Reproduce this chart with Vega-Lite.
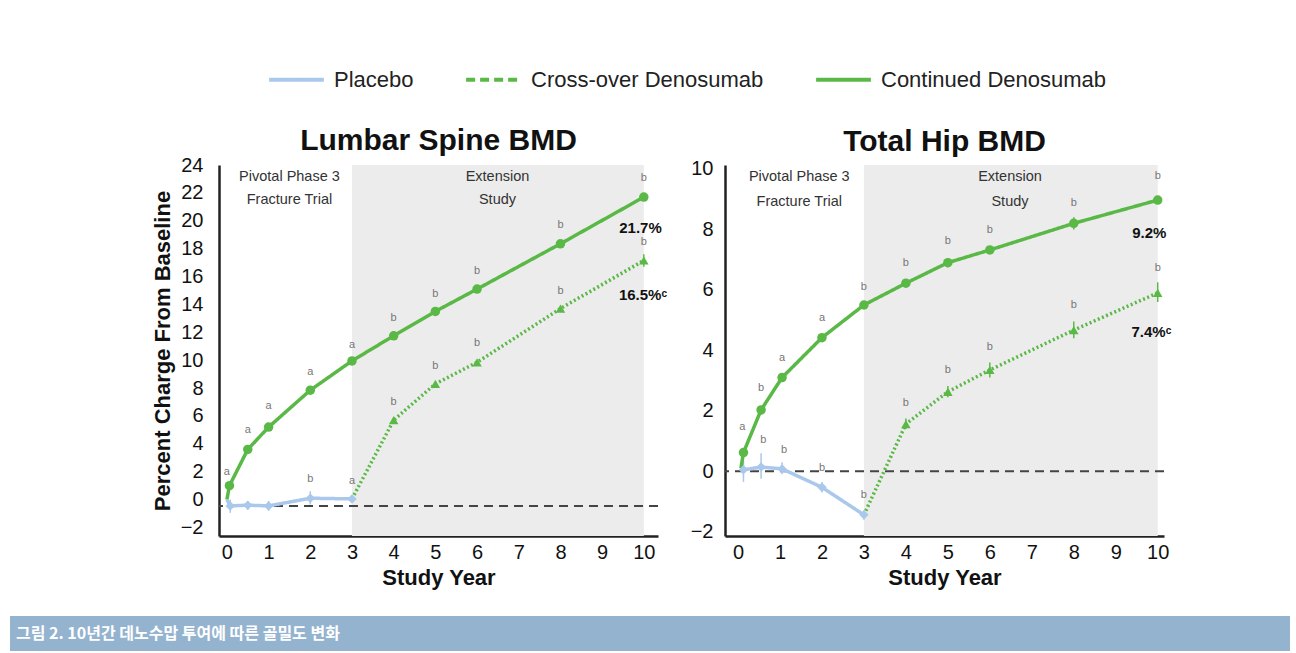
{
  "$schema": "https://vega.github.io/schema/vega-lite/v6.json",
  "background": "white",
  "padding": {"left": 10, "top": 50, "right": 0, "bottom": 0},
  "autosize": {"type": "pad"},
  "config": {
    "font": "Liberation Sans",
    "view": {"stroke": null},
    "axis": {"domainColor": "#222", "domainWidth": 2.5, "ticks": false, "grid": false, "labelFont": "Liberation Sans", "labelFontSize": 20, "labelColor": "#111", "titleFont": "Liberation Sans", "titleFontSize": 22, "titleFontWeight": "bold", "titleColor": "#111", "labelFlush": false, "labelOverlap": false},
    "title": {"font": "Liberation Sans", "fontSize": 30, "fontWeight": "bold", "color": "#111", "anchor": "middle", "offset": 9},
    "legend": {"orient": "none", "legendX": 257, "legendY": -115, "direction": "horizontal", "symbolType": "stroke", "symbolSize": 3000, "symbolStrokeWidth": 4, "labelFont": "Liberation Sans", "labelFontSize": 22, "labelColor": "#222", "labelLimit": 0, "columnPadding": 44, "labelOffset": 8, "padding": 0}
  },
  "datasets": {
    "phases": [{"from": 3, "to": 10}],
    "zeroLumbar": [{"value": -0.45}],
    "zeroHip": [{"value": 0}],
    "lumbar": [
      {"series": "Continued Denosumab", "year": 0, "value": 0, "start": true},
      {"series": "Continued Denosumab", "year": 0.06, "value": 1.0},
      {"series": "Continued Denosumab", "year": 0.5, "value": 3.6},
      {"series": "Continued Denosumab", "year": 1, "value": 5.2},
      {"series": "Continued Denosumab", "year": 2, "value": 7.85},
      {"series": "Continued Denosumab", "year": 3, "value": 9.95},
      {"series": "Continued Denosumab", "year": 4, "value": 11.75},
      {"series": "Continued Denosumab", "year": 5, "value": 13.5},
      {"series": "Continued Denosumab", "year": 6, "value": 15.1},
      {"series": "Continued Denosumab", "year": 8, "value": 18.35},
      {"series": "Continued Denosumab", "year": 10, "value": 21.7},
      {"series": "Cross-over Denosumab", "year": 3, "value": 0.05, "start": true},
      {"series": "Cross-over Denosumab", "year": 4, "value": 5.7},
      {"series": "Cross-over Denosumab", "year": 5, "value": 8.3},
      {"series": "Cross-over Denosumab", "year": 6, "value": 9.85},
      {"series": "Cross-over Denosumab", "year": 8, "value": 13.7},
      {"series": "Cross-over Denosumab", "year": 10, "value": 17.15, "lo": 16.7, "hi": 17.6},
      {"series": "Placebo", "year": 0, "value": 0, "start": true},
      {"series": "Placebo", "year": 0.08, "value": -0.45, "lo": -0.95, "hi": 0.0},
      {"series": "Placebo", "year": 0.5, "value": -0.4, "lo": -0.75, "hi": -0.1},
      {"series": "Placebo", "year": 1, "value": -0.45, "lo": -0.8, "hi": -0.1},
      {"series": "Placebo", "year": 2, "value": 0.1, "lo": -0.35, "hi": 0.6},
      {"series": "Placebo", "year": 3, "value": 0.05}
    ],
    "hip": [
      {"series": "Continued Denosumab", "year": 0.07, "value": 0.1, "start": true},
      {"series": "Continued Denosumab", "year": 0.13, "value": 0.62},
      {"series": "Continued Denosumab", "year": 0.55, "value": 2.03},
      {"series": "Continued Denosumab", "year": 1.05, "value": 3.1},
      {"series": "Continued Denosumab", "year": 2, "value": 4.42},
      {"series": "Continued Denosumab", "year": 3, "value": 5.5},
      {"series": "Continued Denosumab", "year": 4, "value": 6.22},
      {"series": "Continued Denosumab", "year": 5, "value": 6.9, "lo": 6.75, "hi": 7.05},
      {"series": "Continued Denosumab", "year": 6, "value": 7.32},
      {"series": "Continued Denosumab", "year": 8, "value": 8.2, "lo": 8.0, "hi": 8.4},
      {"series": "Continued Denosumab", "year": 10, "value": 8.97},
      {"series": "Cross-over Denosumab", "year": 3, "value": -1.44, "start": true},
      {"series": "Cross-over Denosumab", "year": 4, "value": 1.56, "lo": 1.4, "hi": 1.75},
      {"series": "Cross-over Denosumab", "year": 5, "value": 2.63, "lo": 2.45, "hi": 2.82},
      {"series": "Cross-over Denosumab", "year": 6, "value": 3.35, "lo": 3.1, "hi": 3.6},
      {"series": "Cross-over Denosumab", "year": 8, "value": 4.67, "lo": 4.4, "hi": 4.95},
      {"series": "Cross-over Denosumab", "year": 10, "value": 5.9, "lo": 5.6, "hi": 6.25},
      {"series": "Placebo", "year": 0.13, "value": 0.05, "lo": -0.35, "hi": 0.35},
      {"series": "Placebo", "year": 0.55, "value": 0.14, "lo": -0.25, "hi": 0.6},
      {"series": "Placebo", "year": 1.05, "value": 0.08, "lo": -0.1, "hi": 0.3},
      {"series": "Placebo", "year": 2, "value": -0.53, "lo": -0.7, "hi": -0.35},
      {"series": "Placebo", "year": 3, "value": -1.44, "lo": -1.6, "hi": -1.3}
    ],
    "lumbarLetters": [
      {"year": 0.0, "value": 1.95, "label": "a"},
      {"year": 0.5, "value": 4.96, "label": "a"},
      {"year": 1, "value": 6.7, "label": "a"},
      {"year": 2, "value": 9.16, "label": "a"},
      {"year": 3, "value": 11.07, "label": "a"},
      {"year": 4, "value": 13.03, "label": "b"},
      {"year": 5, "value": 14.74, "label": "b"},
      {"year": 6, "value": 16.37, "label": "b"},
      {"year": 8, "value": 19.7, "label": "b"},
      {"year": 10, "value": 23.05, "label": "b"},
      {"year": 4, "value": 7.0, "label": "b"},
      {"year": 5, "value": 9.57, "label": "b"},
      {"year": 6, "value": 11.24, "label": "b"},
      {"year": 8, "value": 14.98, "label": "b"},
      {"year": 10, "value": 18.45, "label": "b"},
      {"year": 2, "value": 1.5, "label": "b"},
      {"year": 3, "value": 1.3, "label": "a"}
    ],
    "hipLetters": [
      {"year": 0.1, "value": 1.48, "label": "a"},
      {"year": 0.55, "value": 2.75, "label": "b"},
      {"year": 1.05, "value": 3.74, "label": "a"},
      {"year": 2, "value": 5.06, "label": "a"},
      {"year": 3, "value": 6.1, "label": "b"},
      {"year": 4, "value": 6.88, "label": "b"},
      {"year": 5, "value": 7.6, "label": "b"},
      {"year": 6, "value": 7.98, "label": "b"},
      {"year": 8, "value": 8.86, "label": "b"},
      {"year": 10, "value": 9.77, "label": "b"},
      {"year": 0.6, "value": 1.04, "label": "b"},
      {"year": 1.1, "value": 0.7, "label": "b"},
      {"year": 2, "value": 0.1, "label": "b"},
      {"year": 3, "value": -0.78, "label": "b"},
      {"year": 4, "value": 2.25, "label": "b"},
      {"year": 5, "value": 3.35, "label": "b"},
      {"year": 6, "value": 4.12, "label": "b"},
      {"year": 8, "value": 5.5, "label": "b"},
      {"year": 10, "value": 6.71, "label": "b"}
    ],
    "lumbarNotes": [
      {"year": 9.92, "value": 19.5, "label": "21.7%"},
      {"year": 9.98, "value": 14.7, "label": "16.5%ᶜ"}
    ],
    "hipNotes": [
      {"year": 9.8, "value": 7.87, "label": "9.2%"},
      {"year": 9.85, "value": 4.62, "label": "7.4%ᶜ"}
    ],
    "lumbarPhase": [
      {"year": 1.5, "value": 23.17, "label": "Pivotal Phase 3"},
      {"year": 1.5, "value": 21.5, "label": "Fracture Trial"},
      {"year": 6.49, "value": 23.17, "label": "Extension"},
      {"year": 6.49, "value": 21.5, "label": "Study"}
    ],
    "hipPhase": [
      {"year": 1.46, "value": 9.74, "label": "Pivotal Phase 3"},
      {"year": 1.46, "value": 8.92, "label": "Fracture Trial"},
      {"year": 6.48, "value": 9.74, "label": "Extension"},
      {"year": 6.48, "value": 8.92, "label": "Study"}
    ],
    "caption": [{"label": "그림 2. 10년간 데노수맙 투여에 따른 골밀도 변화"}]
  },
  "spacing": 28,
  "vconcat": [
    {
      "spacing": 22,
      "hconcat": [
        {"width": 119, "height": 10, "data": {"values": []}, "mark": {"type": "point"}},
        {
          "width": 439, "height": 371,
          "title": {"text": "Lumbar Spine BMD", "dy": 10},
          "layer": [
            {"data": {"name": "phases"}, "mark": {"type": "rect", "color": "#ececec"},
             "encoding": {
               "x": {"field": "from", "type": "quantitative", "scale": {"domain": [-0.19, 10.34], "nice": false, "zero": false}, "axis": {"values": [0,1,2,3,4,5,6,7,8,9,10], "tickCount": 20, "format": "d", "title": "Study Year", "labelPadding": 6, "titlePadding": 5, "labelOverlap": false}},
               "x2": {"field": "to"}}},
            {"data": {"name": "zeroLumbar"}, "mark": {"type": "rule", "strokeDash": [9, 6], "color": "#444", "strokeWidth": 2},
             "encoding": {"y": {"field": "value", "type": "quantitative", "scale": {"domain": [-2.61, 24], "nice": false, "zero": false}, "axis": {"values": [-2,0,2,4,6,8,10,12,14,16,18,20,22,24], "tickCount": 30, "format": "d", "title": "Percent Charge From Baseline", "labelPadding": 16, "titlePadding": 6, "labelOverlap": false}}}},
            {"data": {"name": "lumbar"}, "transform": [{"filter": "isValid(datum.lo)"}], "mark": {"type": "rule", "strokeWidth": 1.5},
             "encoding": {
               "x": {"field": "year", "type": "quantitative"},
               "y": {"field": "lo", "type": "quantitative"}, "y2": {"field": "hi"},
               "color": {"condition": {"test": "datum.series === 'Placebo'", "value": "#a9c8ec"}, "value": "#5ab946"}}},
            {"data": {"name": "lumbar"}, "mark": {"type": "line", "strokeWidth": 3.5},
             "encoding": {
               "x": {"field": "year", "type": "quantitative"},
               "y": {"field": "value", "type": "quantitative"},
               "color": {"field": "series", "type": "nominal", "scale": {"domain": ["Placebo", "Cross-over Denosumab", "Continued Denosumab"], "range": ["#a9c8ec", "#5ab946", "#5ab946"]},
                 "legend": {"title": null, "encode": {"symbols": {"update": {"strokeDash": [{"test": "datum.value === 'Cross-over Denosumab'", "value": [9, 5]}, {"value": [1, 0]}]}}}}},
               "strokeDash": {"condition": {"test": "datum.series === 'Cross-over Denosumab'", "value": [2, 2.5]}, "value": [1, 0]},
               "order": {"field": "year"}}},
            {"data": {"name": "lumbar"}, "transform": [{"filter": "!datum.start"}], "mark": {"type": "point", "filled": true, "opacity": 1},
             "encoding": {
               "x": {"field": "year", "type": "quantitative"},
               "y": {"field": "value", "type": "quantitative"},
               "shape": {"condition": [{"test": "datum.series === 'Placebo'", "value": "diamond"}, {"test": "datum.series === 'Cross-over Denosumab'", "value": "triangle-up"}], "value": "circle"},
               "color": {"condition": {"test": "datum.series === 'Placebo'", "value": "#a9c8ec"}, "value": "#5ab946"},
               "size": {"value": 90}}},
            {"data": {"name": "lumbarLetters"}, "mark": {"type": "text", "fontSize": 11, "color": "#777"},
             "encoding": {"x": {"field": "year", "type": "quantitative"}, "y": {"field": "value", "type": "quantitative"}, "text": {"field": "label"}}},
            {"data": {"name": "lumbarNotes"}, "mark": {"type": "text", "fontSize": 15, "fontWeight": "bold", "color": "#111"},
             "encoding": {"x": {"field": "year", "type": "quantitative"}, "y": {"field": "value", "type": "quantitative"}, "text": {"field": "label"}}},
            {"data": {"name": "lumbarPhase"}, "mark": {"type": "text", "fontSize": 14.5, "color": "#333"},
             "encoding": {"x": {"field": "year", "type": "quantitative"}, "y": {"field": "value", "type": "quantitative"}, "text": {"field": "label"}}}
          ]
        },
        {
          "width": 439, "height": 371,
          "title": {"text": "Total Hip BMD", "dy": 7},
          "layer": [
            {"data": {"name": "phases"}, "mark": {"type": "rect", "color": "#ececec"},
             "encoding": {
               "x": {"field": "from", "type": "quantitative", "scale": {"domain": [-0.31, 10.15], "nice": false, "zero": false}, "axis": {"values": [0,1,2,3,4,5,6,7,8,9,10], "tickCount": 20, "format": "d", "title": "Study Year", "labelPadding": 6, "titlePadding": 5, "labelOverlap": false}},
               "x2": {"field": "to"}}},
            {"data": {"name": "zeroHip"}, "mark": {"type": "rule", "strokeDash": [9, 6], "color": "#444", "strokeWidth": 2},
             "encoding": {"y": {"field": "value", "type": "quantitative", "scale": {"domain": [-2.14, 10.13], "nice": false, "zero": false}, "axis": {"values": [-2,0,2,4,6,8,10], "tickCount": 20, "format": "d", "title": null, "labelPadding": 12, "labelOverlap": false}}}},
            {"data": {"name": "hip"}, "transform": [{"filter": "isValid(datum.lo)"}], "mark": {"type": "rule", "strokeWidth": 1.5},
             "encoding": {
               "x": {"field": "year", "type": "quantitative"},
               "y": {"field": "lo", "type": "quantitative"}, "y2": {"field": "hi"},
               "color": {"condition": {"test": "datum.series === 'Placebo'", "value": "#a9c8ec"}, "value": "#5ab946"}}},
            {"data": {"name": "hip"}, "mark": {"type": "line", "strokeWidth": 3.5},
             "encoding": {
               "x": {"field": "year", "type": "quantitative"},
               "y": {"field": "value", "type": "quantitative"},
               "color": {"field": "series", "type": "nominal", "scale": {"domain": ["Placebo", "Cross-over Denosumab", "Continued Denosumab"], "range": ["#a9c8ec", "#5ab946", "#5ab946"]},
                 "legend": {"title": null, "encode": {"symbols": {"update": {"strokeDash": [{"test": "datum.value === 'Cross-over Denosumab'", "value": [9, 5]}, {"value": [1, 0]}]}}}}},
               "strokeDash": {"condition": {"test": "datum.series === 'Cross-over Denosumab'", "value": [2, 2.5]}, "value": [1, 0]},
               "order": {"field": "year"}}},
            {"data": {"name": "hip"}, "transform": [{"filter": "!datum.start"}], "mark": {"type": "point", "filled": true, "opacity": 1},
             "encoding": {
               "x": {"field": "year", "type": "quantitative"},
               "y": {"field": "value", "type": "quantitative"},
               "shape": {"condition": [{"test": "datum.series === 'Placebo'", "value": "diamond"}, {"test": "datum.series === 'Cross-over Denosumab'", "value": "triangle-up"}], "value": "circle"},
               "color": {"condition": {"test": "datum.series === 'Placebo'", "value": "#a9c8ec"}, "value": "#5ab946"},
               "size": {"value": 90}}},
            {"data": {"name": "hipLetters"}, "mark": {"type": "text", "fontSize": 11, "color": "#777"},
             "encoding": {"x": {"field": "year", "type": "quantitative"}, "y": {"field": "value", "type": "quantitative"}, "text": {"field": "label"}}},
            {"data": {"name": "hipNotes"}, "mark": {"type": "text", "fontSize": 15, "fontWeight": "bold", "color": "#111"},
             "encoding": {"x": {"field": "year", "type": "quantitative"}, "y": {"field": "value", "type": "quantitative"}, "text": {"field": "label"}}},
            {"data": {"name": "hipPhase"}, "mark": {"type": "text", "fontSize": 14.5, "color": "#333"},
             "encoding": {"x": {"field": "year", "type": "quantitative"}, "y": {"field": "value", "type": "quantitative"}, "text": {"field": "label"}}}
          ]
        }
      ]
    },
    {
      "width": 1280, "height": 35,
      "view": {"fill": "#94b3cf", "stroke": null},
      "data": {"name": "caption"},
      "mark": {"type": "text", "align": "left", "dx": 6, "fontSize": 16, "fontWeight": "bold", "font": "Noto Sans CJK KR", "color": "white"},
      "encoding": {
        "x": {"datum": 0, "type": "quantitative", "scale": {"domain": [0, 1]}, "axis": null},
        "text": {"field": "label"}
      }
    }
  ]
}
